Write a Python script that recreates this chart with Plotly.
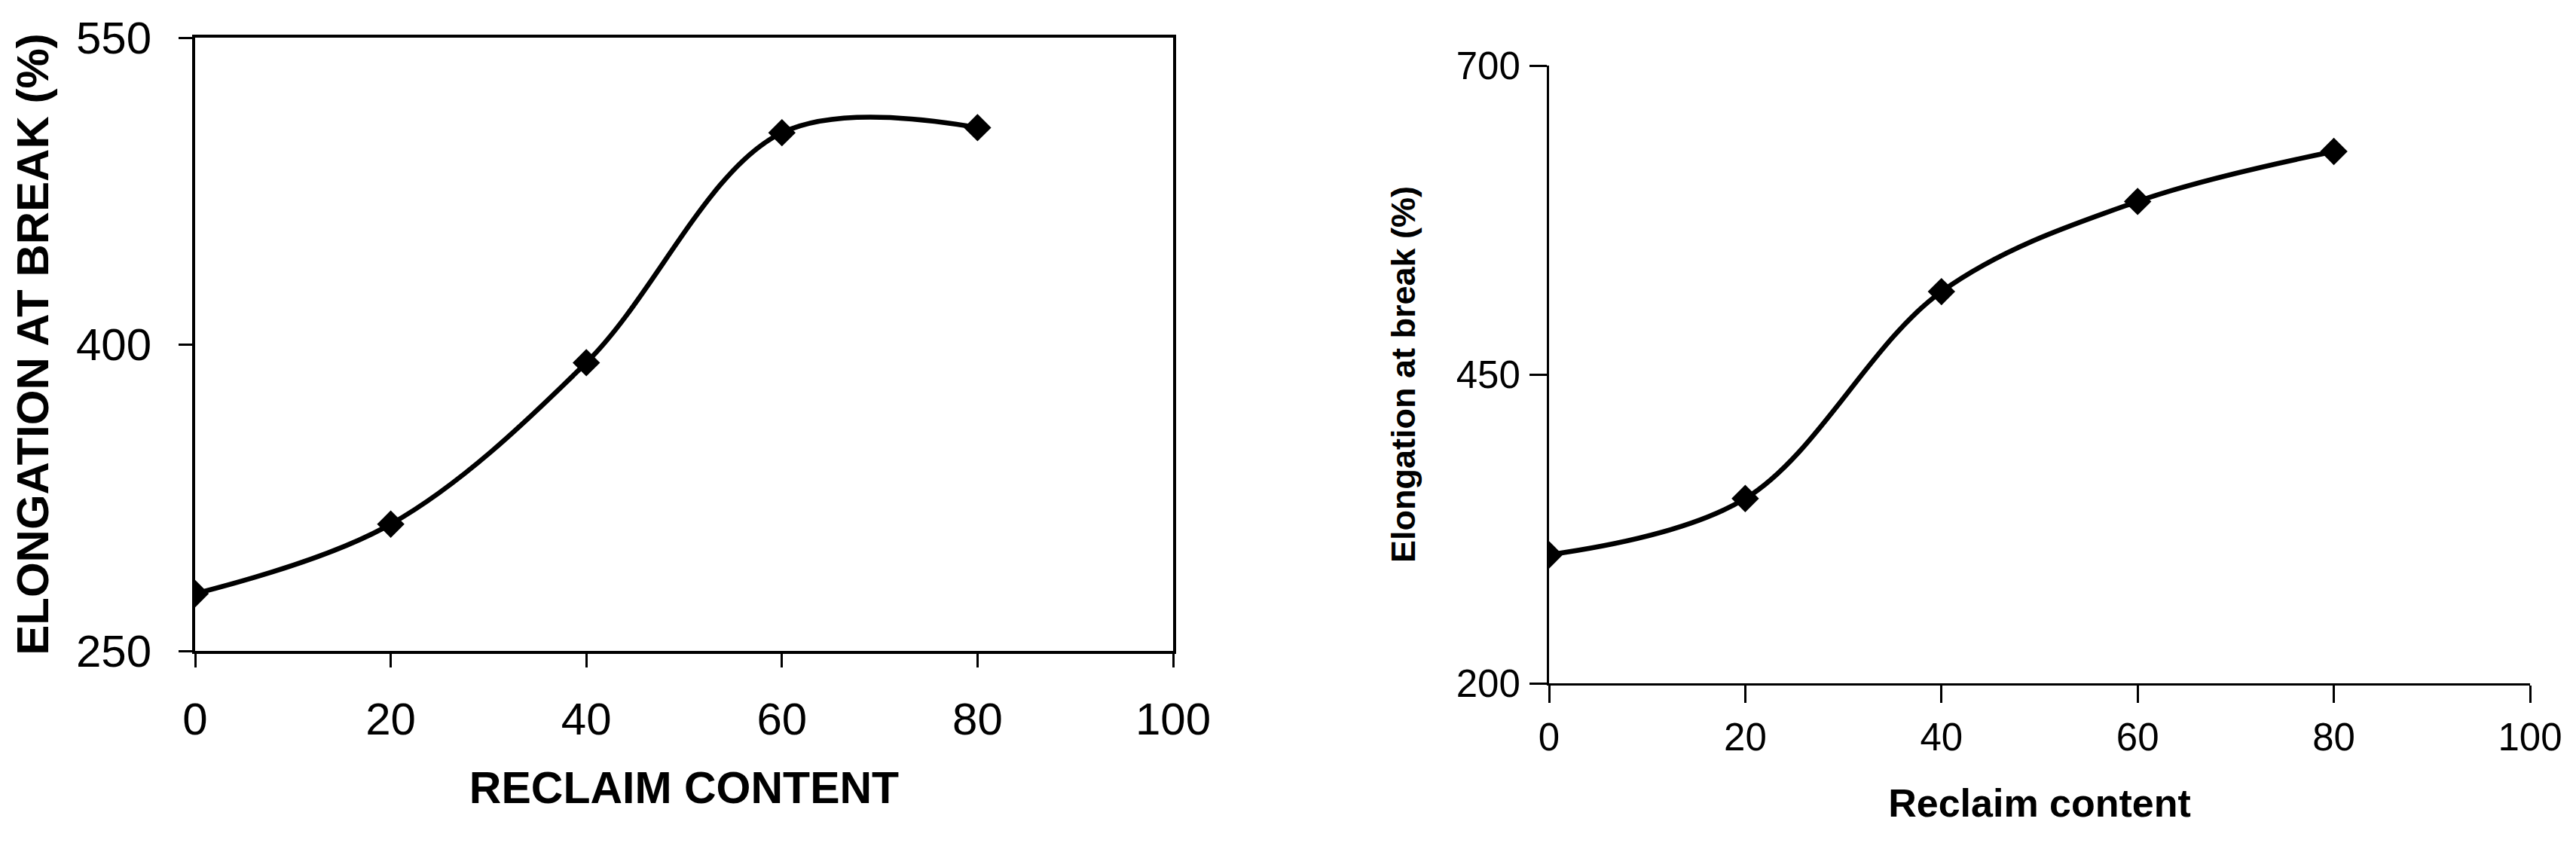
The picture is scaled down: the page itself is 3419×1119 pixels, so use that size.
import plotly.graph_objects as go

# Data
reclaim = [0, 20, 40, 60, 80]
elong_left = [278, 312, 391, 503.5, 506]
elong_right = [304, 349.5, 517, 590, 630.5]

left_yticks = [250, 400, 550]
right_yticks = [200, 450, 700]
xticks = [0, 20, 40, 60, 80, 100]

W, H = 3419, 1119
OFF = 8  # browser default body margin

def px_x(a, b):
    return [(a - OFF) / W, (b - OFF) / W]

def px_y(top, bottom):
    return [1 - (bottom - OFF) / H, 1 - (top - OFF) / H]

FAM = "Liberation Sans, Arial, sans-serif"

fig = go.Figure()

fig.add_trace(go.Scatter(
    x=reclaim, y=elong_left, xaxis="x", yaxis="y",
    mode="lines+markers",
    line=dict(color="black", width=6.5, shape="spline", smoothing=1.0),
    marker=dict(symbol="diamond", size=28, color="black"),
    showlegend=False,
))
fig.add_trace(go.Scatter(
    x=reclaim, y=elong_right, xaxis="x2", yaxis="y2",
    mode="lines+markers",
    line=dict(color="black", width=6.5, shape="spline", smoothing=1.0),
    marker=dict(symbol="diamond", size=28, color="black"),
    showlegend=False,
))

left_font = dict(family=FAM, size=60, color="black")
right_font = dict(family=FAM, size=51, color="black")

fig.update_layout(
    template="none",
    width=W, height=H,
    margin=dict(l=0, r=0, t=0, b=0, autoexpand=False),
    paper_bgcolor="white", plot_bgcolor="white",
    xaxis=dict(
        domain=px_x(259, 1557), range=[0, 100], tickvals=xticks,
        showgrid=False, zeroline=False, automargin=False,
        showline=True, linecolor="black", linewidth=4, mirror=True,
        ticks="outside", ticklen=18, tickwidth=3, tickcolor="black",
        ticklabelstandoff=17,
        tickfont=left_font, anchor="y",
        title=dict(text="<b>RECLAIM CONTENT</b>",
                   font=dict(family=FAM, size=59, color="black"),
                   standoff=39),
    ),
    yaxis=dict(
        domain=px_y(50, 864), range=[250, 550], tickvals=left_yticks,
        showgrid=False, zeroline=False, automargin=False,
        showline=True, linecolor="black", linewidth=4, mirror=True,
        ticks="outside", ticklen=18, tickwidth=3, tickcolor="black",
        ticklabelstandoff=24,
        tickfont=left_font, anchor="x",
        title=dict(text="<b>ELONGATION AT BREAK (%)</b>",
                   font=dict(family=FAM, size=60, color="black"),
                   standoff=18),
    ),
    xaxis2=dict(
        domain=px_x(2056, 3358), range=[0, 100], tickvals=xticks,
        showgrid=False, zeroline=False, automargin=False,
        showline=True, linecolor="black", linewidth=3, mirror=False,
        ticks="outside", ticklen=23, tickwidth=3, tickcolor="black",
        ticklabelstandoff=2,
        tickfont=right_font, anchor="y2",
        title=dict(text="<b>Reclaim content</b>",
                   font=dict(family=FAM, size=52, color="black"),
                   standoff=42),
    ),
    yaxis2=dict(
        domain=px_y(87, 907), range=[200, 700], tickvals=right_yticks,
        showgrid=False, zeroline=False, automargin=False,
        showline=True, linecolor="black", linewidth=3, mirror=False,
        ticks="outside", ticklen=23, tickwidth=3, tickcolor="black",
        ticklabelstandoff=2,
        tickfont=right_font, anchor="x2",
        title=dict(text="<b>Elongation at break (%)</b>",
                   font=dict(family=FAM, size=45, color="black"),
                   standoff=40),
    ),
)

fig.write_html("out.html")
